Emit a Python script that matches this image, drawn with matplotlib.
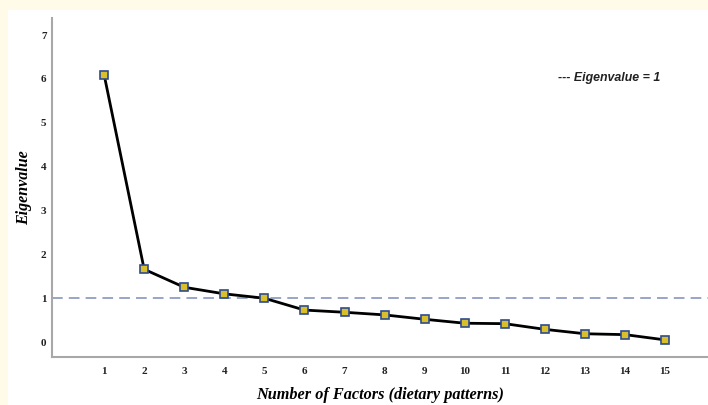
import matplotlib
matplotlib.use("Agg")
import matplotlib.pyplot as plt
from matplotlib.patches import Rectangle

factors = list(range(1, 16))
eigenvalues = [6.10, 1.66, 1.25, 1.10, 1.00, 0.73, 0.68, 0.62, 0.52, 0.43, 0.42, 0.29, 0.19, 0.17, 0.05]
y_ticks = [0, 1, 2, 3, 4, 5, 6, 7]
cutoff = 1

W, H = 708, 405
fig = plt.figure(figsize=(W / 100, H / 100), dpi=100)
fig.set_facecolor("#fffbe8")
# white card behind the chart
fig.patches.append(Rectangle((8 / W, 0), 1 - 8 / W, 1 - 10 / H,
                             transform=fig.transFigure, facecolor="white",
                             edgecolor="none", zorder=-5))

ax = fig.add_axes([52 / W, 1 - 357 / H, 1 - 52 / W, (357 - 18) / H])
ax.set_facecolor("none")

ax.axhline(cutoff, color="#7d8db8", lw=1.1, ls=(0, (7, 4)), zorder=1)
ax.plot(factors, eigenvalues, "-", color="black", lw=2.0,
        marker="s", markersize=5.5, markerfacecolor="#d9bf2c",
        markeredgecolor="#2f4c8c", markeredgewidth=1.2, zorder=3)

ax.set_xlim(-0.30, 16.07)
ax.set_ylim(-0.34, 7.39)
ax.set_xticks(factors)
ax.set_yticks(y_ticks)

serif = ["Liberation Serif", "DejaVu Serif"]
for lab in ax.get_xticklabels() + ax.get_yticklabels():
    lab.set_fontfamily(serif)
    lab.set_fontweight("bold")
    lab.set_fontsize(8)
    lab.set_color("#222222")
ax.tick_params(length=0)
ax.tick_params(axis="x", pad=7)
ax.tick_params(axis="y", pad=4)

for s in ["top", "right"]:
    ax.spines[s].set_visible(False)
for s in ["left", "bottom"]:
    ax.spines[s].set_color("#a8a8a8")
    ax.spines[s].set_linewidth(1.5)

ax.set_xlabel("Number of Factors (dietary patterns)", family=serif,
              fontweight="bold", style="italic", fontsize=11.7, labelpad=8)
ax.set_ylabel("Eigenvalue", family=serif, fontweight="bold",
              style="italic", fontsize=11.5, labelpad=6)

fig.text(558 / W, 1 - 78 / H, "--- Eigenvalue = 1", family=["Liberation Sans", "DejaVu Sans"],
         fontweight="bold", style="italic", fontsize=8.9, va="center", ha="left", color="#222222")

fig.savefig("out.png", dpi=100, facecolor=fig.get_facecolor())
